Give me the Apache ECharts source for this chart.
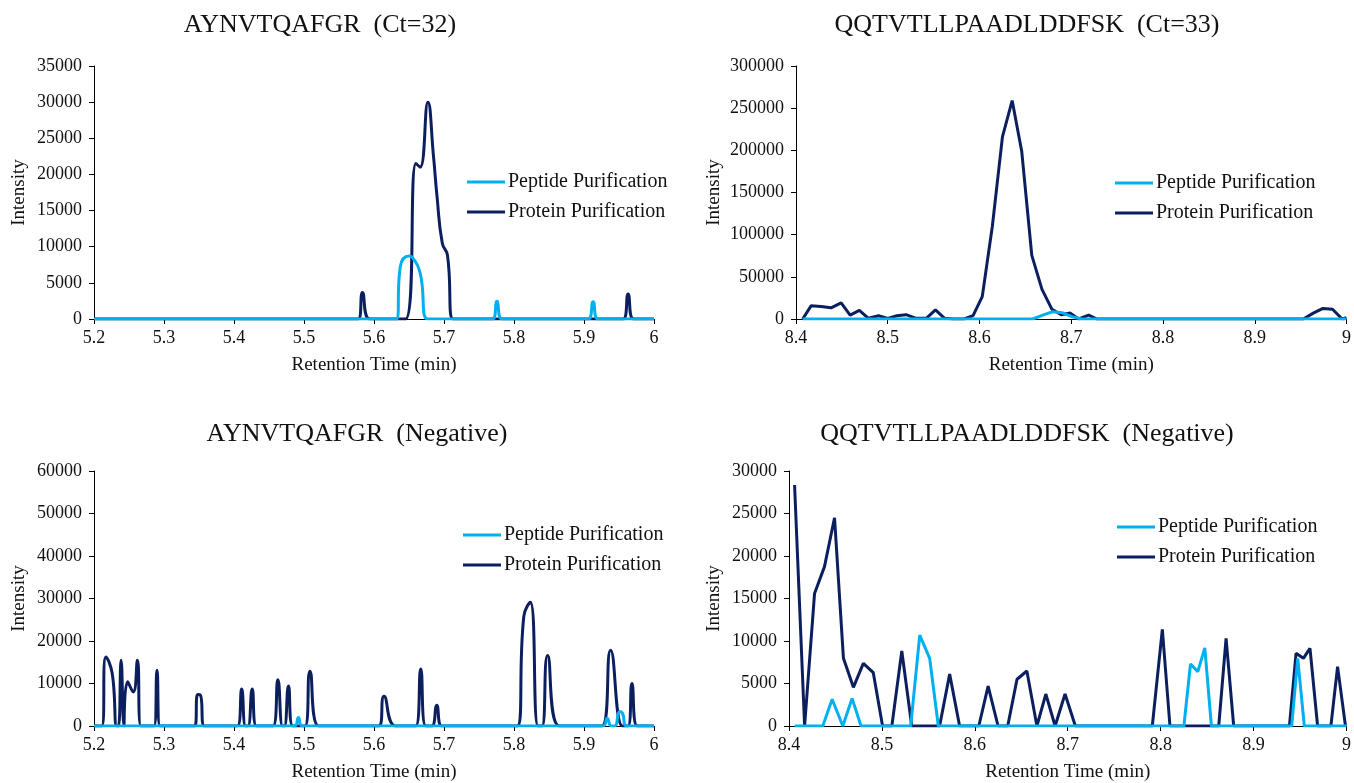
<!DOCTYPE html>
<html>
<head>
<meta charset="utf-8">
<script src="https://cdn.jsdelivr.net/npm/echarts@6/dist/echarts.min.js"></script>
<style>
html,body{margin:0;padding:0;background:#fff;}
#chart{width:1354px;height:783px;}
</style>
</head>
<body>
<div id="chart"></div>
<script>
// ---------- DATA ----------
const seriesNames = ['Peptide Purification', 'Protein Purification'];
const panelTitles = ['AYNVTQAFGR  (Ct=32)', 'QQTVTLLPAADLDDFSK  (Ct=33)', 'AYNVTQAFGR  (Negative)', 'QQTVTLLPAADLDDFSK  (Negative)'];
const xAxisName = 'Retention Time (min)';
const yAxisName = 'Intensity';
const xRangeAY = [5.2, 6.0];
const xRangeQQ = [8.4, 9.0];
const yMax = [35000, 300000, 60000, 30000];
const yStep = [5000, 50000, 10000, 5000];

// Panel 1: AYNVTQAFGR (Ct=32)  [time, intensity]
const ayCtPeptide = [[5.2,0],[5.632,0],[5.6375,7200],[5.65,8700],[5.655,8500],[5.666,6300],[5.677,0],[5.7694,0],[5.7756,2450],[5.783,0],[5.906,0],[5.913,2400],[5.92,0],[6.0,0]];
const ayCtProtein = [[5.2,0],[5.5775,0],[5.5835,3650],[5.594,0],[5.645,0],[5.66,21500],[5.666,21000],[5.677,30000],[5.685,22500],[5.69,17000],[5.6975,10500],[5.705,8800],[5.713,0],[5.956,0],[5.963,3450],[5.9706,0],[6.0,0]];

// Panel 2: QQTVTLLPAADLDDFSK (Ct=33)
const qqCtPeptide = [[8.4073,0],[8.658,0],[8.669,4500],[8.679,8500],[8.69,7500],[8.7,3000],[8.711,0],[9.0,0]];
const qqCtProtein = [[8.4073,0],[8.4164,15600],[8.4273,14800],[8.4382,13300],[8.4492,19100],[8.459,4700],[8.469,10200],[8.479,800],[8.49,3900],[8.5,800],[8.51,3900],[8.52,5100],[8.531,800],[8.542,800],[8.552,10900],[8.562,800],[8.572,0],[8.583,0],[8.593,3900],[8.603,26500],[8.614,110000],[8.625,216000],[8.6356,259000],[8.646,199000],[8.657,75400],[8.668,35500],[8.679,11500],[8.689,5000],[8.699,7000],[8.708,0],[8.719,4500],[8.728,0],[8.953,0],[8.9638,7000],[8.9743,12500],[8.9848,11500],[8.9953,0],[9.0,1500]];

// Panel 3: AYNVTQAFGR (Negative)
const ayNegPeptide = [[5.2,0],[5.4863,0],[5.492,2000],[5.4976,0],[5.927,0],[5.933,1800],[5.939,0],[5.944,0],[5.951,3400],[5.955,3000],[5.961,0],[6.0,0]];
const ayNegProtein = [[5.2,0],[5.211,0],[5.217,16250],[5.226,12400],[5.2325,0],[5.235,0],[5.2387,15500],[5.243,0],[5.244,0],[5.248,10400],[5.256,8000],[5.262,15500],[5.267,0],[5.2858,0],[5.29,13100],[5.2943,0],[5.344,0],[5.348,7400],[5.352,7300],[5.3575,0],[5.405,0],[5.411,8700],[5.4165,0],[5.42,0],[5.426,8700],[5.432,0],[5.4557,0],[5.4627,10900],[5.4693,0],[5.472,0],[5.4778,9400],[5.484,0],[5.5014,0],[5.5085,12900],[5.521,0],[5.607,0],[5.6143,7000],[5.631,0],[5.6597,0],[5.6668,13400],[5.674,0],[5.6826,0],[5.6897,4900],[5.697,0],[5.8047,0],[5.814,25800],[5.8233,29100],[5.8344,0],[5.84,0],[5.848,16600],[5.865,0],[5.9255,0],[5.938,17800],[5.955,0],[5.9628,0],[5.9685,10000],[5.976,0],[6.0,0]];

// Panel 4: QQTVTLLPAADLDDFSK (Negative)
const qqNegPeptide = [[8.406,0],[8.4364,0],[8.4464,3140],[8.4579,0],[8.4679,3250],[8.4775,0],[8.531,0],[8.5407,10700],[8.5514,7960],[8.5607,0],[8.825,0],[8.8321,7300],[8.84,6400],[8.8475,9200],[8.8546,0],[8.941,0],[8.9475,7960],[8.9546,0],[9.0,0]];
const qqNegProtein = [[8.406,28350],[8.4168,0],[8.4275,15600],[8.4382,18750],[8.449,24500],[8.4586,7960],[8.4693,4550],[8.48,7370],[8.4907,6270],[8.5007,0],[8.5107,0],[8.5214,8820],[8.5321,0],[8.5418,0],[8.5525,0],[8.5621,0],[8.5729,6100],[8.5836,0],[8.5936,0],[8.6043,0],[8.6143,4700],[8.625,0],[8.6354,0],[8.6454,5500],[8.656,6470],[8.6668,0],[8.6764,3760],[8.6864,0],[8.6971,3760],[8.7082,0],[8.791,0],[8.8018,11370],[8.81,0],[8.8625,0],[8.8704,10300],[8.8786,0],[8.9386,0],[8.9457,8550],[8.9536,7960],[8.9607,9140],[8.9689,0],[8.9832,0],[8.9904,6980],[8.9989,0]];

// ---------- LAYOUT ----------
const FONT = "'Liberation Serif', 'Times New Roman', serif";
const LIGHT = '#00B0F0';
const DARK = '#0B1F5E';
const panels = [
  {grid:{left:94, top:66, width:560, height:253}, xr:xRangeAY, pep:ayCtPeptide, pro:ayCtProtein, smooth:true, titleX:320, titleY:12, legend:{left:467, top:172}, yGap:65},
  {grid:{left:796, top:66, width:552, height:253}, xr:xRangeQQ, pep:qqCtPeptide, pro:qqCtProtein, smooth:false, titleX:1027, titleY:12, legend:{left:1115, top:173}, yGap:72},
  {grid:{left:94, top:471, width:560, height:255}, xr:xRangeAY, pep:ayNegPeptide, pro:ayNegProtein, smooth:true, titleX:357, titleY:421, legend:{left:463, top:525}, yGap:65},
  {grid:{left:789, top:471, width:559, height:255}, xr:xRangeQQ, pep:qqNegPeptide, pro:qqNegProtein, smooth:false, titleX:1027, titleY:421, legend:{left:1117, top:517}, yGap:65}
];

const option = {
  backgroundColor: '#fff',
  animation: false,
  title: [], legend: [], grid: [], xAxis: [], yAxis: [], series: []
};

panels.forEach((p, i) => {
  option.title.push({
    text: panelTitles[i], left: p.titleX, top: p.titleY, textAlign: 'center', padding: 0,
    textStyle: {fontFamily: FONT, fontSize: 26, fontWeight: 'normal', color: '#111'}
  });
  option.grid.push(Object.assign({containLabel:false}, p.grid));
  option.legend.push({
    data: seriesNames, orient: 'vertical', left: p.legend.left, top: p.legend.top, padding: 0,
    itemWidth: 38, itemHeight: 3, itemGap: 10, icon: 'rect', selectedMode: false,
    textStyle: {fontFamily: FONT, fontSize: 20, color: '#111', padding: [0,0,0,-2]}
  });
  option.xAxis.push({
    type: 'value', gridIndex: i, min: p.xr[0], max: p.xr[1], interval: 0.1,
    name: xAxisName, nameLocation: 'middle', nameGap: 37,
    nameTextStyle: {fontFamily: FONT, fontSize: 19, color: '#111'},
    axisLine: {show: true, onZero: false, lineStyle: {color: '#000', width: 1}},
    axisTick: {show: true, length: 5, lineStyle: {color: '#000'}},
    axisLabel: {fontFamily: FONT, fontSize: 18, color: '#111', margin: 10},
    splitLine: {show: false}
  });
  option.yAxis.push({
    type: 'value', gridIndex: i, min: 0, max: yMax[i], interval: yStep[i],
    name: yAxisName, nameLocation: 'middle', nameGap: p.yGap,
    nameTextStyle: {fontFamily: FONT, fontSize: 19, color: '#111'},
    axisLine: {show: true, lineStyle: {color: '#000', width: 1}},
    axisTick: {show: true, length: 5, lineStyle: {color: '#000'}},
    axisLabel: {fontFamily: FONT, fontSize: 18, color: '#111', margin: 12, formatter: v => String(v)},
    splitLine: {show: false}
  });
  option.series.push({
    name: seriesNames[1], type: 'line', xAxisIndex: i, yAxisIndex: i, data: p.pro,
    showSymbol: false, symbol: 'none', smooth: p.smooth ? 0.5 : false, z: 2,
    color: DARK, lineStyle: {color: DARK, width: 3}
  });
  option.series.push({
    name: seriesNames[0], type: 'line', xAxisIndex: i, yAxisIndex: i, data: p.pep,
    showSymbol: false, symbol: 'none', smooth: p.smooth ? 0.5 : false, z: 3,
    color: LIGHT, lineStyle: {color: LIGHT, width: 3}
  });
});

const chart = echarts.init(document.getElementById('chart'), null, {renderer: 'canvas'});
chart.setOption(option);
</script>
</body>
</html>
